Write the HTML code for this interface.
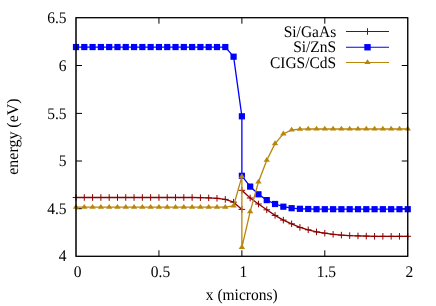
<!DOCTYPE html>
<html><head><meta charset="utf-8"><title>plot</title>
<style>
html,body{margin:0;padding:0;background:#fff;}
svg{display:block;will-change:transform;}
text{font-family:"Liberation Serif",serif;font-size:16.2px;fill:#000;text-rendering:geometricPrecision;}
</style></head>
<body>
<svg width="436" height="306" viewBox="0 0 436 306">
<rect width="436" height="306" fill="#fff"/>
<path d="M76.0,208.70h6M407.75,208.70h-6M76.0,161.00h6M407.75,161.00h-6M76.0,113.40h6M407.75,113.40h-6M76.0,65.50h6M407.75,65.50h-6M158.94,256.3v-6M158.94,17.7v6M241.88,256.3v-6M241.88,17.7v6M324.81,256.3v-6M324.81,17.7v6" stroke="#000" stroke-width="1" fill="none"/>
<text transform="translate(66.50,260.90) scale(0.957,1)" text-anchor="end">4</text>
<text transform="translate(66.50,213.90) scale(0.957,1)" text-anchor="end">4.5</text>
<text transform="translate(66.50,165.90) scale(0.957,1)" text-anchor="end">5</text>
<text transform="translate(66.50,118.90) scale(0.957,1)" text-anchor="end">5.5</text>
<text transform="translate(66.50,70.90) scale(0.957,1)" text-anchor="end">6</text>
<text transform="translate(66.50,22.90) scale(0.957,1)" text-anchor="end">6.5</text>
<text transform="translate(77.50,277.00) scale(0.957,1)" text-anchor="middle">0</text>
<text transform="translate(160.44,277.00) scale(0.957,1)" text-anchor="middle">0.5</text>
<text transform="translate(243.38,277.00) scale(0.957,1)" text-anchor="middle">1</text>
<text transform="translate(326.31,277.00) scale(0.957,1)" text-anchor="middle">1.5</text>
<text transform="translate(409.25,277.00) scale(0.957,1)" text-anchor="middle">2</text>
<text transform="translate(241.70,300.20) scale(0.957,1)" text-anchor="middle">x (microns)</text>
<text transform="translate(18.30,136.60) rotate(-90) scale(0.985,1)" text-anchor="middle">energy (eV)</text>
<polyline points="76.00,197.50 84.29,197.50 92.59,197.50 100.88,197.50 109.18,197.50 117.47,197.50 125.76,197.50 134.06,197.50 142.35,197.50 150.64,197.50 158.94,197.50 167.23,197.50 175.52,197.50 183.82,197.50 192.11,197.50 200.41,197.70 208.70,197.90 216.99,198.30 225.29,199.40 233.58,202.20 241.88,209.40" fill="none" stroke="#8b0000" stroke-width="1.3" stroke-linejoin="round"/>
<polyline points="241.88,190.30 250.17,198.00 258.46,204.00 266.76,209.80 275.05,215.40 283.34,220.10 291.64,223.80 299.93,227.40 308.23,229.80 316.52,231.90 324.81,233.20 333.11,234.30 341.40,235.10 349.69,235.60 357.99,235.90 366.28,236.10 374.57,236.30 382.87,236.30 391.16,236.30 399.46,236.30 407.75,236.30" fill="none" stroke="#8b0000" stroke-width="1.3" stroke-linejoin="round"/>
<path d="M72.70,197.50h6.6M76.00,194.20v6.6M80.99,197.50h6.6M84.29,194.20v6.6M89.29,197.50h6.6M92.59,194.20v6.6M97.58,197.50h6.6M100.88,194.20v6.6M105.88,197.50h6.6M109.18,194.20v6.6M114.17,197.50h6.6M117.47,194.20v6.6M122.46,197.50h6.6M125.76,194.20v6.6M130.76,197.50h6.6M134.06,194.20v6.6M139.05,197.50h6.6M142.35,194.20v6.6M147.34,197.50h6.6M150.64,194.20v6.6M155.64,197.50h6.6M158.94,194.20v6.6M163.93,197.50h6.6M167.23,194.20v6.6M172.22,197.50h6.6M175.52,194.20v6.6M180.52,197.50h6.6M183.82,194.20v6.6M188.81,197.50h6.6M192.11,194.20v6.6M197.11,197.70h6.6M200.41,194.40v6.6M205.40,197.90h6.6M208.70,194.60v6.6M213.69,198.30h6.6M216.99,195.00v6.6M221.99,199.40h6.6M225.29,196.10v6.6M230.28,202.20h6.6M233.58,198.90v6.6M238.57,209.40h6.6M241.88,206.10v6.6M238.57,190.30h6.6M241.88,187.00v6.6M246.87,198.00h6.6M250.17,194.70v6.6M255.16,204.00h6.6M258.46,200.70v6.6M263.46,209.80h6.6M266.76,206.50v6.6M271.75,215.40h6.6M275.05,212.10v6.6M280.04,220.10h6.6M283.34,216.80v6.6M288.34,223.80h6.6M291.64,220.50v6.6M296.63,227.40h6.6M299.93,224.10v6.6M304.93,229.80h6.6M308.23,226.50v6.6M313.22,231.90h6.6M316.52,228.60v6.6M321.51,233.20h6.6M324.81,229.90v6.6M329.81,234.30h6.6M333.11,231.00v6.6M338.10,235.10h6.6M341.40,231.80v6.6M346.39,235.60h6.6M349.69,232.30v6.6M354.69,235.90h6.6M357.99,232.60v6.6M362.98,236.10h6.6M366.28,232.80v6.6M371.27,236.30h6.6M374.57,233.00v6.6M379.57,236.30h6.6M382.87,233.00v6.6M387.86,236.30h6.6M391.16,233.00v6.6M396.16,236.30h6.6M399.46,233.00v6.6M404.45,236.30h6.6M407.75,233.00v6.6" stroke="#8b0000" stroke-width="1" fill="none"/>
<polyline points="76.00,47.05 84.29,47.05 92.59,47.05 100.88,47.05 109.18,47.05 117.47,47.05 125.76,47.05 134.06,47.05 142.35,47.05 150.64,47.05 158.94,47.05 167.23,47.05 175.52,47.05 183.82,47.05 192.11,47.05 200.41,47.05 208.70,47.05 216.99,47.05 225.29,47.05 233.58,56.70 241.88,116.30 241.88,175.80 250.17,186.60 258.46,194.30 266.76,200.10 275.05,204.00 283.34,206.70 291.64,208.20 299.93,208.80 308.23,209.00 316.52,209.20 324.81,209.20 333.11,209.20 341.40,209.20 349.69,209.20 357.99,209.20 366.28,209.20 374.57,209.20 382.87,209.20 391.16,209.20 399.46,209.20 407.75,209.20" fill="none" stroke="#0000ff" stroke-width="1.3" stroke-linejoin="round"/>
<rect x="72.90" y="43.95" width="6.2" height="6.2" fill="#0000ff"/><rect x="81.19" y="43.95" width="6.2" height="6.2" fill="#0000ff"/><rect x="89.49" y="43.95" width="6.2" height="6.2" fill="#0000ff"/><rect x="97.78" y="43.95" width="6.2" height="6.2" fill="#0000ff"/><rect x="106.08" y="43.95" width="6.2" height="6.2" fill="#0000ff"/><rect x="114.37" y="43.95" width="6.2" height="6.2" fill="#0000ff"/><rect x="122.66" y="43.95" width="6.2" height="6.2" fill="#0000ff"/><rect x="130.96" y="43.95" width="6.2" height="6.2" fill="#0000ff"/><rect x="139.25" y="43.95" width="6.2" height="6.2" fill="#0000ff"/><rect x="147.54" y="43.95" width="6.2" height="6.2" fill="#0000ff"/><rect x="155.84" y="43.95" width="6.2" height="6.2" fill="#0000ff"/><rect x="164.13" y="43.95" width="6.2" height="6.2" fill="#0000ff"/><rect x="172.42" y="43.95" width="6.2" height="6.2" fill="#0000ff"/><rect x="180.72" y="43.95" width="6.2" height="6.2" fill="#0000ff"/><rect x="189.01" y="43.95" width="6.2" height="6.2" fill="#0000ff"/><rect x="197.31" y="43.95" width="6.2" height="6.2" fill="#0000ff"/><rect x="205.60" y="43.95" width="6.2" height="6.2" fill="#0000ff"/><rect x="213.89" y="43.95" width="6.2" height="6.2" fill="#0000ff"/><rect x="222.19" y="43.95" width="6.2" height="6.2" fill="#0000ff"/><rect x="230.48" y="53.60" width="6.2" height="6.2" fill="#0000ff"/><rect x="238.78" y="113.20" width="6.2" height="6.2" fill="#0000ff"/><rect x="238.78" y="172.70" width="6.2" height="6.2" fill="#0000ff"/><rect x="247.07" y="183.50" width="6.2" height="6.2" fill="#0000ff"/><rect x="255.36" y="191.20" width="6.2" height="6.2" fill="#0000ff"/><rect x="263.66" y="197.00" width="6.2" height="6.2" fill="#0000ff"/><rect x="271.95" y="200.90" width="6.2" height="6.2" fill="#0000ff"/><rect x="280.24" y="203.60" width="6.2" height="6.2" fill="#0000ff"/><rect x="288.54" y="205.10" width="6.2" height="6.2" fill="#0000ff"/><rect x="296.83" y="205.70" width="6.2" height="6.2" fill="#0000ff"/><rect x="305.12" y="205.90" width="6.2" height="6.2" fill="#0000ff"/><rect x="313.42" y="206.10" width="6.2" height="6.2" fill="#0000ff"/><rect x="321.71" y="206.10" width="6.2" height="6.2" fill="#0000ff"/><rect x="330.01" y="206.10" width="6.2" height="6.2" fill="#0000ff"/><rect x="338.30" y="206.10" width="6.2" height="6.2" fill="#0000ff"/><rect x="346.59" y="206.10" width="6.2" height="6.2" fill="#0000ff"/><rect x="354.89" y="206.10" width="6.2" height="6.2" fill="#0000ff"/><rect x="363.18" y="206.10" width="6.2" height="6.2" fill="#0000ff"/><rect x="371.47" y="206.10" width="6.2" height="6.2" fill="#0000ff"/><rect x="379.77" y="206.10" width="6.2" height="6.2" fill="#0000ff"/><rect x="388.06" y="206.10" width="6.2" height="6.2" fill="#0000ff"/><rect x="396.36" y="206.10" width="6.2" height="6.2" fill="#0000ff"/><rect x="404.65" y="206.10" width="6.2" height="6.2" fill="#0000ff"/>
<polyline points="76.00,207.20 84.29,207.20 92.59,207.20 100.88,207.20 109.18,207.20 117.47,207.20 125.76,207.20 134.06,207.20 142.35,207.20 150.64,207.20 158.94,207.20 167.23,207.20 175.52,207.20 183.82,207.20 192.11,207.20 200.41,207.20 208.70,207.20 216.99,207.20 225.29,207.20 233.58,205.90 241.88,176.60 241.88,247.30 250.17,211.70 258.46,182.00 266.76,160.20 275.05,143.60 283.34,133.90 291.64,130.00 299.93,129.20 308.23,129.00 316.52,129.00 324.81,129.00 333.11,129.00 341.40,129.00 349.69,129.00 357.99,129.00 366.28,129.00 374.57,129.00 382.87,129.00 391.16,129.00 399.46,129.00 407.75,129.00" fill="none" stroke="#b8860b" stroke-width="1.3" stroke-linejoin="round"/>
<path d="M76.00,203.90L72.80,208.80L79.20,208.80Z" fill="#b8860b"/><path d="M84.29,203.90L81.09,208.80L87.49,208.80Z" fill="#b8860b"/><path d="M92.59,203.90L89.39,208.80L95.79,208.80Z" fill="#b8860b"/><path d="M100.88,203.90L97.68,208.80L104.08,208.80Z" fill="#b8860b"/><path d="M109.18,203.90L105.98,208.80L112.38,208.80Z" fill="#b8860b"/><path d="M117.47,203.90L114.27,208.80L120.67,208.80Z" fill="#b8860b"/><path d="M125.76,203.90L122.56,208.80L128.96,208.80Z" fill="#b8860b"/><path d="M134.06,203.90L130.86,208.80L137.26,208.80Z" fill="#b8860b"/><path d="M142.35,203.90L139.15,208.80L145.55,208.80Z" fill="#b8860b"/><path d="M150.64,203.90L147.44,208.80L153.84,208.80Z" fill="#b8860b"/><path d="M158.94,203.90L155.74,208.80L162.14,208.80Z" fill="#b8860b"/><path d="M167.23,203.90L164.03,208.80L170.43,208.80Z" fill="#b8860b"/><path d="M175.52,203.90L172.32,208.80L178.72,208.80Z" fill="#b8860b"/><path d="M183.82,203.90L180.62,208.80L187.02,208.80Z" fill="#b8860b"/><path d="M192.11,203.90L188.91,208.80L195.31,208.80Z" fill="#b8860b"/><path d="M200.41,203.90L197.21,208.80L203.61,208.80Z" fill="#b8860b"/><path d="M208.70,203.90L205.50,208.80L211.90,208.80Z" fill="#b8860b"/><path d="M216.99,203.90L213.79,208.80L220.19,208.80Z" fill="#b8860b"/><path d="M225.29,203.90L222.09,208.80L228.49,208.80Z" fill="#b8860b"/><path d="M233.58,202.60L230.38,207.50L236.78,207.50Z" fill="#b8860b"/><path d="M241.88,173.30L238.68,178.20L245.07,178.20Z" fill="#b8860b"/><path d="M241.88,244.00L238.68,248.90L245.07,248.90Z" fill="#b8860b"/><path d="M250.17,208.40L246.97,213.30L253.37,213.30Z" fill="#b8860b"/><path d="M258.46,178.70L255.26,183.60L261.66,183.60Z" fill="#b8860b"/><path d="M266.76,156.90L263.56,161.80L269.96,161.80Z" fill="#b8860b"/><path d="M275.05,140.30L271.85,145.20L278.25,145.20Z" fill="#b8860b"/><path d="M283.34,130.60L280.14,135.50L286.54,135.50Z" fill="#b8860b"/><path d="M291.64,126.70L288.44,131.60L294.84,131.60Z" fill="#b8860b"/><path d="M299.93,125.90L296.73,130.80L303.13,130.80Z" fill="#b8860b"/><path d="M308.23,125.70L305.03,130.60L311.43,130.60Z" fill="#b8860b"/><path d="M316.52,125.70L313.32,130.60L319.72,130.60Z" fill="#b8860b"/><path d="M324.81,125.70L321.61,130.60L328.01,130.60Z" fill="#b8860b"/><path d="M333.11,125.70L329.91,130.60L336.31,130.60Z" fill="#b8860b"/><path d="M341.40,125.70L338.20,130.60L344.60,130.60Z" fill="#b8860b"/><path d="M349.69,125.70L346.49,130.60L352.89,130.60Z" fill="#b8860b"/><path d="M357.99,125.70L354.79,130.60L361.19,130.60Z" fill="#b8860b"/><path d="M366.28,125.70L363.08,130.60L369.48,130.60Z" fill="#b8860b"/><path d="M374.57,125.70L371.38,130.60L377.77,130.60Z" fill="#b8860b"/><path d="M382.87,125.70L379.67,130.60L386.07,130.60Z" fill="#b8860b"/><path d="M391.16,125.70L387.96,130.60L394.36,130.60Z" fill="#b8860b"/><path d="M399.46,125.70L396.26,130.60L402.66,130.60Z" fill="#b8860b"/><path d="M407.75,125.70L404.55,130.60L410.95,130.60Z" fill="#b8860b"/>
<rect x="76.0" y="17.7" width="331.75" height="238.60" fill="none" stroke="#000" stroke-width="1"/>
<rect x="76.0" y="17.7" width="331.75" height="238.60" fill="none" stroke="#000" stroke-width="1"/>
<text transform="translate(336.20,37.00) scale(0.957,1)" text-anchor="end">Si/GaAs</text>
<path d="M346,31.5H389" stroke="#8b0000" stroke-width="1.2" fill="none"/>
<path d="M364.2,31.5h6.6M367.5,28.2v6.6" stroke="#8b0000" stroke-width="1"/>
<text transform="translate(336.20,52.20) scale(0.957,1)" text-anchor="end">Si/ZnS</text>
<path d="M346,47.25H389" stroke="#0000ff" stroke-width="1.2" fill="none"/>
<rect x="364.3" y="44.05" width="6.4" height="6.4" fill="#0000ff"/>
<text transform="translate(336.20,67.70) scale(0.957,1)" text-anchor="end">CIGS/CdS</text>
<path d="M346,62.5H389" stroke="#b8860b" stroke-width="1.2" fill="none"/>
<path d="M367.5,59.20L364.3,64.10L370.7,64.10Z" fill="#b8860b"/>
</svg>
</body></html>
